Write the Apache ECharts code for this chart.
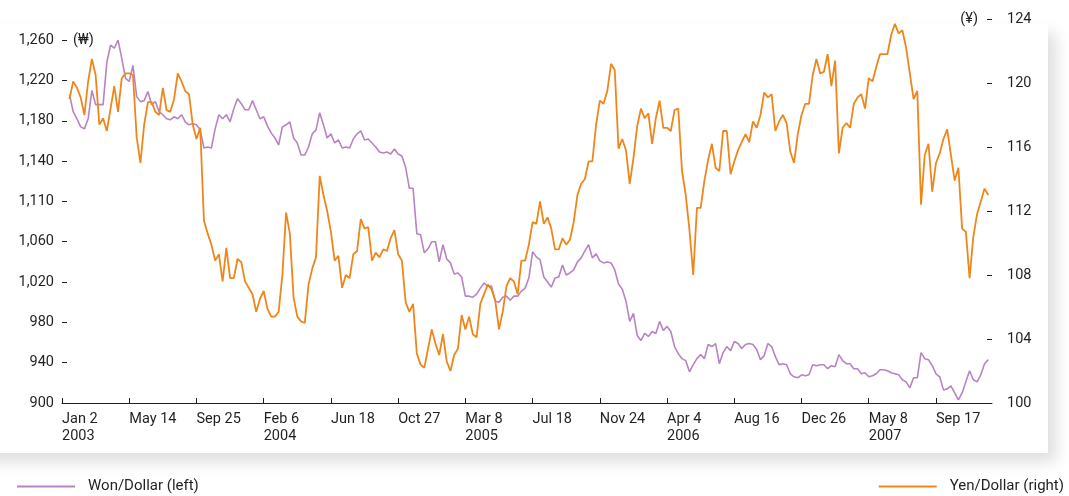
<!DOCTYPE html>
<html>
<head>
<meta charset="utf-8">
<title>Won/Dollar and Yen/Dollar</title>
<script src="https://cdn.jsdelivr.net/npm/echarts@6/dist/echarts.min.js"></script>
<style>
html, body { margin: 0; padding: 0; background: #fff; }
.wrap { position: relative; width: 1069px; height: 496px; overflow: hidden; }
.panel {
  position: absolute; left: -40px; top: 24px; width: 1088px; height: 429px;
  background: #fff; box-shadow: 8px 9px 14px rgba(0,0,0,0.13);
}
#chart { position: absolute; left: 0; top: 0; width: 1069px; height: 496px; }
</style>
</head>
<body>
<div class="wrap"><div class="panel"></div><div id="chart"></div></div>
<script>
// weekly samples, 18 per tick (Jan 2 2003 .. Nov 2007)
const tickLabels = ['Jan 2\n2003', 'May 14', 'Sep 25', 'Feb 6\n2004', 'Jun 18', 'Oct 27',
  'Mar 8\n2005', 'Jul 18', 'Nov 24', 'Apr 4\n2006', 'Aug 16', 'Dec 26', 'May 8\n2007', 'Sep 17']

const wonTicks = [900, 940, 980, 1020, 1060, 1100, 1140, 1180, 1220, 1260]
const wonTickLabels = ['900', '940', '980', '1,020', '1,060', '1,110', '1,140', '1,180', '1,220', '1,260']

const won = [
  null, null, 1206, 1189, 1182, 1174, 1172, 1182, 1210, 1196, 1196, 1196, 1238, 1255, 1252, 1260, 1242, 1222,
  1219, 1235, 1204, 1199, 1200, 1209, 1196, 1199, 1189, 1186, 1182, 1181, 1184, 1182, 1186, 1179, 1176, 1177,
  1176, 1171, 1153, 1154, 1153, 1172, 1186, 1182, 1186, 1179, 1192, 1202, 1197, 1191, 1191, 1200, 1191, 1182,
  1184, 1175, 1168, 1163, 1156, 1174, 1176, 1179, 1163, 1158, 1146, 1146, 1154, 1167, 1171, 1188, 1176, 1163,
  1167, 1158, 1161, 1153, 1154, 1153, 1162, 1167, 1170, 1161, 1162, 1158, 1154, 1149, 1148, 1149, 1147, 1152,
  1147, 1145, 1134, 1113, 1113, 1068, 1067, 1049, 1053, 1060, 1060, 1040, 1057, 1043, 1039, 1028, 1029, 1025,
  1006, 1006, 1005, 1008, 1014, 1019, 1016, 1016, 1001, 1000, 1005, 1006, 1002, 1006, 1006, 1011, 1014, 1024,
  1050, 1045, 1042, 1025, 1020, 1015, 1024, 1025, 1037, 1027, 1029, 1032, 1040, 1044, 1051, 1057, 1044, 1048,
  1041, 1039, 1040, 1039, 1032, 1018, 1013, 1001, 981, 989, 967, 962, 969, 966, 971, 969, 981, 972,
  976, 971, 956, 949, 944, 942, 931, 938, 944, 948, 944, 958, 956, 959, 939, 950, 956, 952,
  961, 959, 954, 958, 959, 958, 953, 943, 947, 959, 956, 946, 938, 939, 938, 929, 926, 925,
  928, 927, 928, 938, 937, 938, 938, 934, 937, 936, 948, 942, 939, 939, 934, 934, 929, 930,
  926, 927, 929, 933, 933, 932, 930, 929, 928, 923, 921, 915, 925, 925, 950, 944, 943, 937,
  929, 926, 913, 914, 917, 910, 903, 910, 921, 932, 923, 921, 928, 939, 943, null
]

const yen = [
  null, null, 119.0, 120.1, 119.7, 119.1, 118.0, 120.1, 121.5, 120.5, 117.4, 117.8, 117.0, 118.4, 119.8, 118.2, 120.3, 120.6,
  120.6, 120.5, 116.6, 115.0, 117.4, 118.8, 118.8, 118.2, 118.0, 119.7, 118.3, 118.2, 119.0, 120.6, 120.1, 119.5, 119.3, 117.4,
  116.5, 117.2, 111.4, 110.6, 109.9, 108.9, 109.3, 107.6, 109.7, 107.8, 107.8, 109.0, 108.8, 107.6, 107.2, 106.8, 105.7, 106.5,
  107.0, 105.9, 105.4, 105.4, 105.7, 108.0, 111.9, 110.6, 106.6, 105.4, 105.1, 105.0, 107.4, 108.4, 109.1, 114.2, 113.0, 112.0,
  110.7, 108.9, 109.2, 107.2, 108.0, 107.8, 109.3, 109.5, 111.5, 110.9, 111.0, 108.9, 109.4, 109.1, 109.6, 109.5, 110.3, 110.8,
  109.3, 108.9, 106.3, 105.7, 106.2, 103.1, 102.4, 102.2, 103.4, 104.6, 103.7, 103.0, 104.3, 102.6, 102.0, 103.0, 103.4, 105.5,
  104.6, 105.4, 104.3, 104.1, 106.2, 106.8, 107.4, 107.1, 106.4, 104.6, 105.7, 107.3, 107.8, 107.6, 106.8, 108.9, 108.9, 109.9,
  111.3, 111.2, 112.6, 111.2, 111.6, 110.9, 109.6, 109.6, 110.3, 109.9, 110.2, 111.3, 113.0, 113.7, 114.0, 115.1, 115.1, 117.4,
  118.9, 118.7, 119.5, 121.2, 120.8, 115.9, 116.5, 115.8, 113.7, 115.3, 117.3, 118.4, 117.8, 118.1, 116.2, 117.8, 118.9, 117.2,
  117.2, 117.0, 118.3, 118.4, 114.5, 113.0, 110.8, 108.0, 112.2, 112.2, 113.9, 115.2, 116.2, 114.7, 114.5, 117.0, 117.0, 114.3,
  115.1, 115.8, 116.3, 116.8, 116.3, 117.6, 117.2, 118.0, 119.4, 119.1, 119.3, 117.0, 117.6, 118.0, 117.5, 115.7, 115.0, 116.8,
  118.0, 118.7, 118.7, 120.5, 121.5, 120.6, 120.7, 121.8, 119.8, 121.4, 115.6, 117.2, 117.5, 117.2, 118.7, 119.1, 119.3, 118.4,
  120.3, 120.1, 121.0, 121.8, 121.8, 121.8, 123.0, 123.7, 123.1, 123.3, 122.2, 120.6, 119.0, 119.5, 112.4, 115.5, 116.2, 113.2,
  115.0, 115.6, 116.5, 117.1, 115.5, 113.9, 114.7, 110.9, 110.7, 107.8, 110.4, 111.8, 112.6, 113.4, 113.0, null
]

const days = won.map((_, i) => i)

const FONT = 'Roboto'
const INK = '#231f20'
const PURPLE = '#b784c2'
const ORANGE = '#ef861c'

const chart = echarts.init(document.getElementById('chart'))
chart.setOption({
  animation: false,
  backgroundColor: 'transparent',
  textStyle: { fontFamily: FONT, color: INK },
  grid: { left: 62, right: 77, top: 19, bottom: 93 },
  legend: [
    {
      data: ['Won/Dollar (left)'], left: 17, top: 479, padding: 0,
      icon: 'rect', itemWidth: 58, itemHeight: 2,
      textStyle: { fontFamily: FONT, fontSize: 15, color: INK, padding: [0, 0, 0, 8] }
    },
    {
      data: ['Yen/Dollar (right)'], right: 5, top: 479, padding: 0,
      icon: 'rect', itemWidth: 58, itemHeight: 2,
      textStyle: { fontFamily: FONT, fontSize: 15, color: INK, padding: [0, 0, 0, 8] }
    }
  ],
  xAxis: {
    type: 'category',
    data: days,
    boundaryGap: false,
    axisLine: { lineStyle: { color: INK, width: 1 } },
    axisTick: { inside: true, length: 5, interval: i => i % 18 === 0, lineStyle: { color: INK } },
    axisLabel: {
      interval: i => i % 18 === 0, align: 'left', margin: 8, lineHeight: 17,
      fontFamily: FONT, fontSize: 14.5, color: INK,
      formatter: (v, i) => tickLabels[i / 18] || ''
    },
    splitLine: { show: false }
  },
  yAxis: [
    {
      type: 'value', position: 'left', min: 900, max: 1281,
      name: '(₩)', nameLocation: 'end', nameGap: -21.5,
      nameTextStyle: { fontFamily: FONT, fontSize: 14.5, color: INK, align: 'left', verticalAlign: 'middle', padding: [0, 0, 0, 11] },
      axisLine: { show: false },
      axisTick: { show: true, inside: true, length: 5, customValues: wonTicks, lineStyle: { color: INK } },
      axisLabel: {
        margin: 8, fontFamily: FONT, fontSize: 14.5, color: INK, customValues: wonTicks,
        formatter: v => wonTickLabels[wonTicks.indexOf(v)]
      },
      splitLine: { show: false }
    },
    {
      type: 'value', position: 'right', min: 100, max: 124, interval: 4,
      name: '(¥)', nameLocation: 'end', nameGap: 0,
      nameTextStyle: { fontFamily: FONT, fontSize: 14.5, color: INK, align: 'right', verticalAlign: 'middle', padding: [0, 14, 0, 0] },
      axisLine: { show: false },
      axisTick: { show: true, inside: true, length: 5, lineStyle: { color: INK } },
      axisLabel: { margin: 15, fontFamily: FONT, fontSize: 14.5, color: INK },
      splitLine: { show: false }
    }
  ],
  series: [
    {
      name: 'Won/Dollar (left)', type: 'line', yAxisIndex: 0, data: won,
      showSymbol: false, symbol: 'none',
      lineStyle: { color: PURPLE, width: 1.6 }, itemStyle: { color: PURPLE }
    },
    {
      name: 'Yen/Dollar (right)', type: 'line', yAxisIndex: 1, data: yen,
      showSymbol: false, symbol: 'none',
      lineStyle: { color: ORANGE, width: 1.8 }, itemStyle: { color: ORANGE }
    }
  ]
})
</script>
</body>
</html>
